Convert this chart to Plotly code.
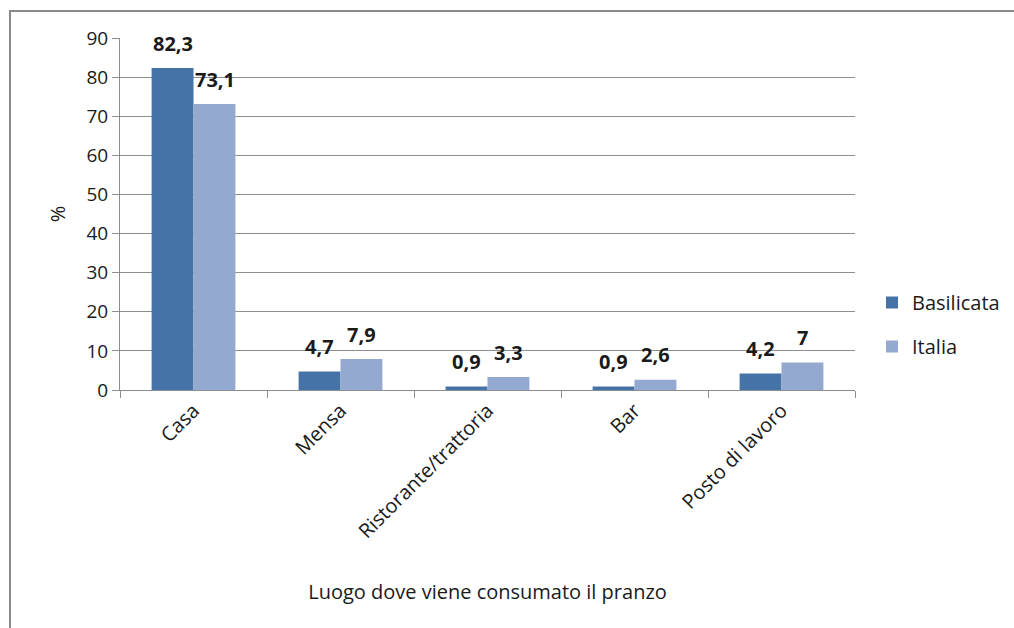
import plotly.graph_objects as go

# Where lunch is eaten: share of people (%), Basilicata vs Italy
categories = ["Casa", "Mensa", "Ristorante/trattoria", "Bar", "Posto di lavoro"]
basilicata = [82.3, 4.7, 0.9, 0.9, 4.2]
italia = [73.1, 7.9, 3.3, 2.6, 7.0]
series_names = ["Basilicata", "Italia"]
y_ticks = [0, 10, 20, 30, 40, 50, 60, 70, 80, 90]

COL_BAS = "#4572A7"
COL_ITA = "#93A9D0"
GRID = "#8e8e8e"
TEXT = "#1a1a1a"
FONT = "Open Sans"

W, H = 1014, 628
ML, MR, MT, MB = 120, 159, 38, 238
PW, PH = W - ML - MR, H - MT - MB


def fmt(v):
    # Italian decimal comma, integers without decimals
    return f"{v:g}".replace(".", ",")


fig = go.Figure()
for name, vals, col in [(series_names[0], basilicata, COL_BAS),
                        (series_names[1], italia, COL_ITA)]:
    fig.add_trace(go.Bar(
        x=categories, y=vals, name=name, marker_color=col,
        marker_line_width=0, legendgroup=name,
    ))

# value labels above each bar
annotations = []
for vals, dx in [(basilicata, -21), (italia, 21)]:
    for c, v in zip(categories, vals):
        annotations.append(dict(
            x=c, y=v, xref="x", yref="y", text=fmt(v), showarrow=False,
            xshift=dx, yshift=25, yanchor="middle",
            font=dict(family=FONT, size=20, color=TEXT, weight="bold"),
        ))

# outer chart frame (runs off the right and bottom edges of the page)
frame = dict(
    type="rect", xref="paper", yref="paper", layer="above",
    x0=(10 - ML) / PW, x1=(W + 20 - ML) / PW,
    y0=-(H + 20 - (MT + PH)) / PH, y1=(MT + PH - 11) / PH,
    line=dict(color="#8a8a8a", width=2), fillcolor="rgba(0,0,0,0)",
)

fig.update_layout(
    width=W, height=H,
    margin=dict(l=ML, r=MR, t=MT, b=MB, autoexpand=False),
    paper_bgcolor="white", plot_bgcolor="white",
    barmode="group", bargap=0.43, bargroupgap=0,
    font=dict(family=FONT, size=19, color=TEXT),
    showlegend=True,
    legend=dict(
        x=(872 - ML) / PW, y=(MT + PH - 283) / PH, xanchor="left", yanchor="top",
        font=dict(family=FONT, size=20, color=TEXT),
        tracegroupgap=15, bgcolor="rgba(0,0,0,0)",
    ),
    annotations=annotations,
    shapes=[frame],
)

fig.update_xaxes(
    type="category", tickangle=-45, tickson="boundaries",
    ticks="outside", ticklen=7, tickcolor=GRID,
    showline=True, linecolor=GRID, linewidth=1,
    showgrid=False, automargin=False,
    tickfont=dict(family=FONT, size=20, color=TEXT),
    title=dict(text="Luogo dove viene consumato il pranzo",
               font=dict(family=FONT, size=20, color=TEXT), standoff=42),
)
fig.update_yaxes(
    range=[0, 90], tickvals=y_ticks,
    ticks="outside", ticklen=7, tickcolor=GRID,
    showline=True, linecolor=GRID, linewidth=1,
    showgrid=True, gridcolor=GRID, gridwidth=1, zeroline=False,
    automargin=False,
    tickfont=dict(family=FONT, size=19, color=TEXT),
    title=dict(text="%", font=dict(family=FONT, size=20, color=TEXT), standoff=15),
)

fig.write_html("out.html")
